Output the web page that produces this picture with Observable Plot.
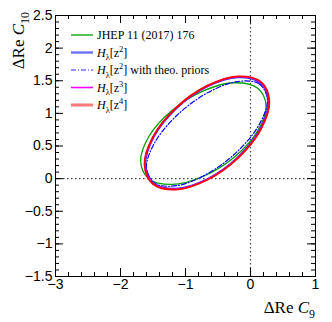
<!DOCTYPE html>
<html><head><meta charset="utf-8">
<script src="https://cdn.jsdelivr.net/npm/d3@7"></script>
<script src="https://cdn.jsdelivr.net/npm/@observablehq/plot@0.6"></script>
<style>body{margin:0;background:#fff} #chart svg{display:block}</style>
</head><body><div id="chart"></div>
<script>
// ---- data (contour points) ----
const seriesKeys = ["jhep", "theo", "z2", "z3", "z4"];
const seriesLabels = ["JHEP 11 (2017) 176", "*H*_{λ}[z^{2}] with theo. priors", "*H*_{λ}[z^{2}]", "*H*_{λ}[z^{3}]", "*H*_{λ}[z^{4}]"];
const legendOrder = ["jhep", "z2", "theo", "z3", "z4"];

const jhepX = [0.24, 0.111, -0.242, -0.725, -1.208, -1.561, -1.69, -1.561, -1.208, -0.725, -0.242, 0.111];
const jhepY = [1.115, 1.385, 1.469, 1.344, 1.044, 0.649, 0.265, -0.005, -0.089, 0.036, 0.336, 0.731];
const theoX = [0.26, 0.135, -0.205, -0.67, -1.135, -1.475, -1.60, -1.475, -1.135, -0.67, -0.205, 0.135];
const theoY = [1.211, 1.451, 1.488, 1.310, 0.967, 0.549, 0.169, -0.071, -0.108, 0.070, 0.413, 0.831];
const z2X = [0.275, 0.148, -0.197, -0.67, -1.143, -1.488, -1.615, -1.488, -1.143, -0.67, -0.197, 0.148];
const z2Y = [1.178, 1.469, 1.553, 1.409, 1.074, 0.640, 0.222, -0.069, -0.153, -0.009, 0.326, 0.760];
const z3X = [0.285, 0.157, -0.193, -0.67, -1.148, -1.497, -1.625, -1.497, -1.148, -0.67, -0.193, 0.157];
const z3Y = [1.182, 1.475, 1.560, 1.415, 1.078, 0.640, 0.218, -0.075, -0.160, -0.015, 0.322, 0.760];
const z4X = [0.29, 0.161, -0.19, -0.67, -1.15, -1.501, -1.63, -1.501, -1.15, -0.67, -0.19, 0.161];
const z4Y = [1.186, 1.482, 1.568, 1.421, 1.081, 0.639, 0.214, -0.082, -0.168, -0.021, 0.319, 0.761];

const xTickValues = [-3, -2, -1, 0, 1];
const yTickValues = [-1.5, -1, -0.5, 0, 0.5, 1, 1.5, 2, 2.5];
const xTitle = "ΔRe *C*_{9}";
const yTitle = "ΔRe *C*_{10}";

// ---- styles ----
const styles = {
  jhep: {stroke: "#00a000", strokeWidth: 1.3, legendStroke: "#00a000", legendWidth: 1.3},
  theo: {stroke: "#0000ff", strokeWidth: 1.2, dash: "5,2,1,2", legendStroke: "#2a2aff", legendWidth: 1.2},
  z2:   {stroke: "#2b2bff", strokeWidth: 1.8, legendStroke: "#6f6fff", legendWidth: 2.4},
  z3:   {stroke: "#ff00ff", strokeWidth: 1.5, legendStroke: "#ff00ff", legendWidth: 1.6},
  z4:   {stroke: "#ff0000", strokeWidth: 1.8, legendStroke: "#ff7b7b", legendWidth: 3}
};

const seriesData = {
  jhep: [jhepX, jhepY], theo: [theoX, theoY], z2: [z2X, z2Y], z3: [z3X, z3Y], z4: [z4X, z4Y]
};
const rows = seriesKeys.map(k => seriesData[k][0].map((x, i) => ({key: k, x, y: seriesData[k][1][i]})));

const W = 332, H = 322, mL = 55, mR = 17, mT = 15, mB = 46;
const innerW = W - mL - mR, innerH = H - mT - mB;
const fmt = d => (d < 0 ? "\u2212" : "") + Math.abs(d);
const xMinor = d3.range(-15, 6).map(i => i / 5);
const yMinor = d3.range(-15, 26).map(i => i / 10);
const MAJ = 8, MIN = 4;

const lineMarks = seriesKeys.map((k, i) => Plot.line(rows[i], {
  x: "x", y: "y", curve: "catmull-rom-closed",
  stroke: styles[k].stroke, strokeWidth: styles[k].strokeWidth,
  strokeDasharray: styles[k].dash || null
}));

const chart = Plot.plot({
  width: W, height: H, marginLeft: mL, marginRight: mR, marginTop: mT, marginBottom: mB,
  x: {domain: [-3, 1]}, y: {domain: [-1.5, 2.5]},
  style: {fontFamily: "'Liberation Sans', Arial, sans-serif", fontSize: "14px", color: "black", background: "white"},
  marks: [
    Plot.ruleX([0], {x: d => d, stroke: "#444", strokeWidth: 1.3, strokeDasharray: "1.5,2.5"}),
    Plot.ruleY([0], {y: d => d, stroke: "#444", strokeWidth: 1.3, strokeDasharray: "1.5,2.5"}),
    ...lineMarks,
    Plot.frame({stroke: "black", strokeWidth: 1}),
    Plot.tickX(xTickValues, {x: d => d, insetTop: innerH - MAJ, stroke: "black"}),
    Plot.tickX(xTickValues, {x: d => d, insetBottom: innerH - MAJ, stroke: "black"}),
    Plot.tickX(xMinor, {x: d => d, insetTop: innerH - MIN, stroke: "black"}),
    Plot.tickX(xMinor, {x: d => d, insetBottom: innerH - MIN, stroke: "black"}),
    Plot.tickY(yTickValues, {y: d => d, insetRight: innerW - MAJ, stroke: "black"}),
    Plot.tickY(yTickValues, {y: d => d, insetLeft: innerW - MAJ, stroke: "black"}),
    Plot.tickY(yMinor, {y: d => d, insetRight: innerW - MIN, stroke: "black"}),
    Plot.tickY(yMinor, {y: d => d, insetLeft: innerW - MIN, stroke: "black"}),
    Plot.axisX(xTickValues, {tickSize: 0, tickPadding: 3, tickFormat: fmt, label: null}),
    Plot.axisY(yTickValues, {tickSize: 0, tickPadding: 3, tickFormat: fmt, label: null})
  ]
});
document.getElementById("chart").appendChild(chart);

// rich text renderer: *italic*, _{sub}, ^{sup}
function rich(textSel, str, size) {
  const parts = str.split(/(\*[^*]+\*|_\{[^}]+\}|\^\{[^}]+\})/).filter(s => s.length);
  let shift = 0;
  for (const p of parts) {
    let t, dy = 0, fs = size, it = false;
    if (p.startsWith("*")) { t = p.slice(1, -1); it = true; }
    else if (p.startsWith("_{")) { t = p.slice(2, -1); fs = size * 0.7; dy = size * 0.3; }
    else if (p.startsWith("^{")) { t = p.slice(2, -1); fs = size * 0.7; dy = -size * 0.4; }
    else { t = p; }
    const ts = textSel.append("tspan").text(t).attr("font-size", fs);
    if (it) ts.attr("font-style", "italic");
    const need = dy - shift;
    if (need !== 0) ts.attr("dy", need);
    shift = dy;
  }
}

const svg = d3.select(chart);
const serif = "'Liberation Serif', 'Times New Roman', serif";

// axis titles
const xt = svg.append("text").attr("x", W - mR).attr("y", 313)
  .attr("text-anchor", "end").attr("font-family", serif).attr("fill", "black");
rich(xt, xTitle, 17);
const yt = svg.append("text").attr("transform", "translate(24,12) rotate(-90)")
  .attr("text-anchor", "end").attr("font-family", serif).attr("fill", "black");
rich(yt, yTitle, 17);

// legend
const lg = svg.append("g").attr("text-anchor", "start");
legendOrder.forEach((k, i) => {
  const y = 35 + i * 17.5;
  const s = styles[k];
  lg.append("line").attr("x1", 71).attr("x2", 93).attr("y1", y).attr("y2", y)
    .attr("stroke", s.legendStroke).attr("stroke-width", s.legendWidth)
    .attr("stroke-dasharray", s.dash || null);
  const t = lg.append("text").attr("x", 97).attr("y", y + 4).attr("text-anchor", "start")
    .attr("font-family", serif).attr("font-size", 12).attr("fill", "black");
  rich(t, seriesLabels[seriesKeys.indexOf(k)], 12);
});
</script>
</body></html>
